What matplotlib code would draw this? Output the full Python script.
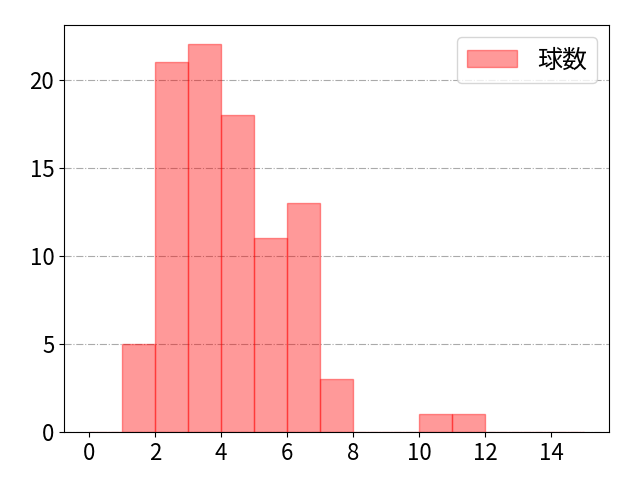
import matplotlib
matplotlib.use('Agg')
import matplotlib.pyplot as plt

plt.rcParams['font.family'] = ['Noto Sans CJK JP', 'DejaVu Sans']

# ヒストグラムの各ビン（幅1）と度数
bin_left = [0, 1, 2, 3, 4, 5, 6, 7, 8, 9, 10, 11, 12, 13, 14]
counts = [0, 5, 21, 22, 18, 11, 13, 3, 0, 0, 1, 1, 0, 0, 0]
label = '球数'

fig, ax = plt.subplots(figsize=(6.4, 4.8), dpi=100)
ax.hist(bin_left, bins=list(range(0, 16)), weights=counts,
        color='red', alpha=0.4, edgecolor='red', linewidth=1, label=label, zorder=2)
ax.grid(axis='y', linestyle='-.', color='#aaaaaa', linewidth=0.8, zorder=0)
ax.set_axisbelow(True)
ax.set_xticks(range(0, 16, 2))
ax.tick_params(labelsize=16)
ax.legend(fontsize=18, loc='upper right')
fig.subplots_adjust(left=0.1, right=0.952, top=0.948, bottom=0.1)
fig.savefig('out.png')
